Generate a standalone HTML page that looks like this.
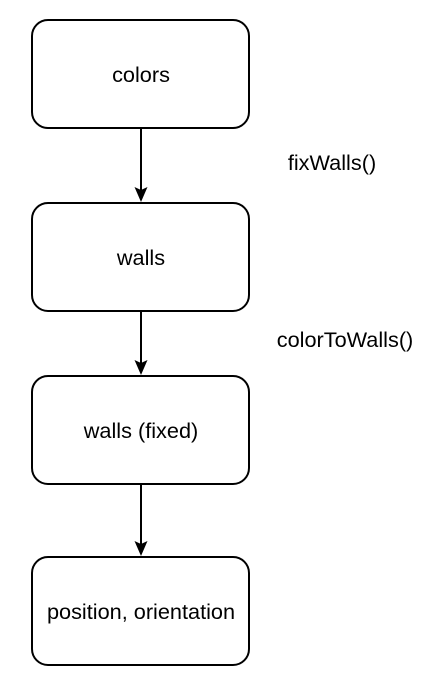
<!DOCTYPE html>
<html><head><style>
html,body{margin:0;padding:0;background:#fff;}
</style></head><body>
<svg width="428" height="687" xmlns="http://www.w3.org/2000/svg" style="display:block">
<g fill="#fff" stroke="#000" stroke-width="2">
<rect x="32" y="20" width="217" height="108" rx="16"/>
<rect x="32" y="203" width="217" height="108" rx="16"/>
<rect x="32" y="376" width="217" height="108" rx="16"/>
<rect x="32" y="557" width="217" height="108" rx="16"/>
</g>
<g stroke="#000" stroke-width="2">
<line x1="141" y1="128" x2="141" y2="190"/>
<line x1="141" y1="311" x2="141" y2="363"/>
<line x1="141" y1="484" x2="141" y2="544"/>
</g>
<g fill="#000">
<path d="M134.5 187 L141 202 L147.5 187 L141 190 Z"/>
<path d="M134.5 360 L141 375 L147.5 360 L141 363 Z"/>
<path d="M134.5 541 L141 556 L147.5 541 L141 544 Z"/>
</g>
<g font-family="Liberation Sans, Arial, sans-serif" font-size="21.7" fill="#000" text-anchor="middle">
<text x="141" y="82">colors</text>
<text x="141" y="265">walls</text>
<text x="141" y="438">walls (fixed)</text>
<text x="141" y="619">position, orientation</text>
<text x="332" y="170">fixWalls()</text>
<text x="345" y="347">colorToWalls()</text>
</g>
</svg>
</body></html>
